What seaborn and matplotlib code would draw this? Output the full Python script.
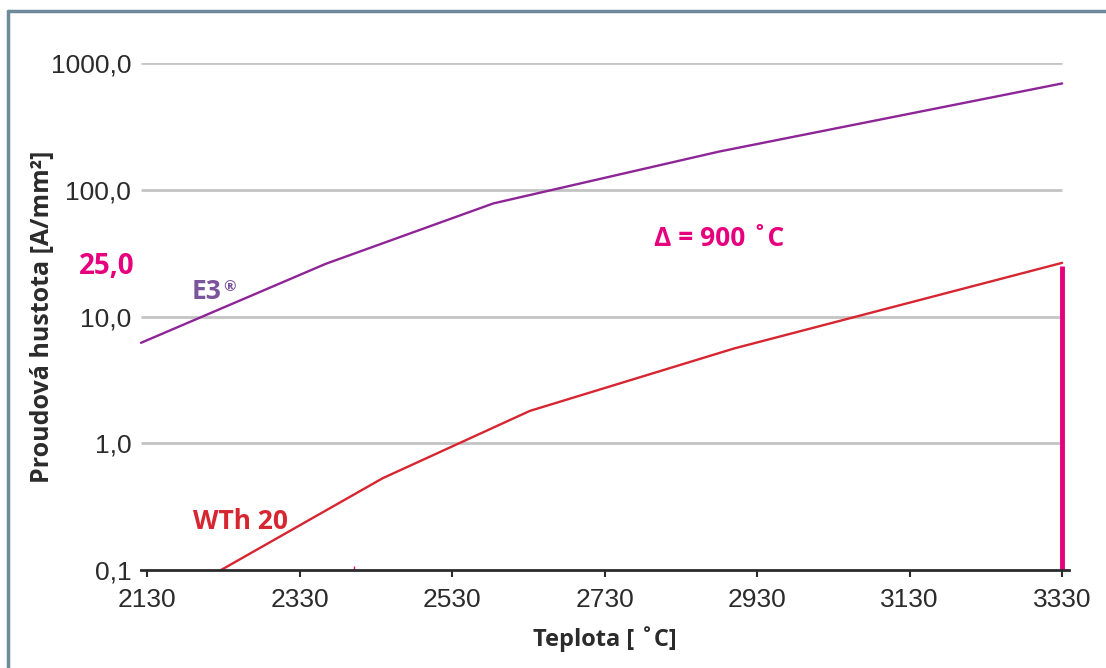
import numpy as np
import pandas as pd
import seaborn as sns
import matplotlib.pyplot as plt
from matplotlib.lines import Line2D
import matplotlib.transforms as mtransforms

# Data
e3_temp = [2122, 2364, 2584, 2880, 3330]
e3_current = [6.2, 26.0, 78.0, 200.0, 690.0]

wth_temp = [2227, 2439, 2632, 2900, 3330]
wth_current = [0.1, 0.53, 1.8, 5.6, 26.5]

x_ticks = [2130, 2330, 2530, 2730, 2930, 3130, 3330]
y_ticks = [0.1, 1, 10, 100, 1000]
y_tick_labels = ['0,1', '1,0', '10,0', '100,0', '1000,0']

marker_temp = 3330
marker_current = 25.0

purple = '#8E2596'
red = '#D62631'
magenta = '#E6007E'
label_purple = '#7B559C'
dark = '#2B2B2B'

df = pd.concat([
    pd.DataFrame({'Teplota': e3_temp, 'Proud': e3_current, 'serie': 'E3'}),
    pd.DataFrame({'Teplota': wth_temp, 'Proud': wth_current, 'serie': 'WTh 20'}),
])

sns.set_style('white')
plt.rcParams['font.family'] = ['Liberation Sans', 'DejaVu Sans']

fig = plt.figure(figsize=(11.06, 6.68), dpi=100)
ax = fig.add_axes([141 / 1106, 1 - 570 / 668, 928 / 1106, (570 - 63) / 668])

ax.set_yscale('log')
ax.set_xlim(2122, 3339)
ax.set_ylim(0.1, 1000)

# gridlines stop at the marker line
ax.hlines([1, 10, 100, 1000], 2122, marker_temp, colors='#C4C4C4', lw=2, zorder=1)

sns.lineplot(data=df, x='Teplota', y='Proud', hue='serie',
             palette={'E3': purple, 'WTh 20': red}, lw=1.7,
             legend=False, ax=ax, zorder=3)
for line in ax.lines:
    line.set_clip_on(False)

ax.vlines(marker_temp, 0.1, marker_current, colors=magenta, lw=3.5, zorder=4)
ax.vlines(2401, 0.093, 0.108, colors=magenta, lw=1, zorder=5)

for s in ['top', 'right', 'left']:
    ax.spines[s].set_visible(False)
ax.spines['bottom'].set_color(dark)
ax.spines['bottom'].set_linewidth(2)
ax.spines['bottom'].set_zorder(6)

ax.set_xticks(x_ticks)
ax.set_xticklabels([str(t) for t in x_ticks])
ax.set_yticks(y_ticks)
ax.set_yticklabels(y_tick_labels)
ax.yaxis.set_minor_locator(plt.NullLocator())
ax.tick_params(axis='x', direction='out', length=5, width=1.5, color=dark,
               labelsize=19, labelcolor=dark, pad=8, bottom=True)
ax.tick_params(axis='y', length=0, labelsize=19, labelcolor=dark, pad=7)

font_ann = ['Open Sans', 'DejaVu Sans']
ax.set_xlabel('Teplota [ ˚C]', fontsize=17, fontweight='bold', color=dark,
              family=font_ann, labelpad=10)
ax.set_ylabel('Proudová hustota [A/mm²]', fontsize=18, fontweight='bold', color=dark,
              family=font_ann)
ax.yaxis.set_label_coords(-0.093, 0.5)

ax.text(2189, 15.7, 'E3', color=label_purple, fontsize=19, fontweight='bold',
        family=font_ann, va='center', ha='left')
ax.annotate('®', xy=(2189, 15.7), xytext=(31, 5), textcoords='offset pixels',
            color=label_purple, fontsize=11, fontweight='bold', family=font_ann,
            va='center', ha='left')
ax.text(2190, 0.243, 'WTh 20', color=red, fontsize=19, fontweight='bold',
        family=font_ann, va='center', ha='left')
ax.text(2795, 41, 'Δ = 900 ˚C', color=magenta, fontsize=19, fontweight='bold',
        family=font_ann, va='center', ha='left')
trans = mtransforms.blended_transform_factory(ax.transAxes, ax.transData)
ax.text(-0.007, 25, '25,0', color=magenta, fontsize=20, fontweight='bold',
        family=font_ann, va='center', ha='right', transform=trans)

# blue-grey frame along top and left edge
frame_c = '#6E8B9C'
fig.add_artist(Line2D([8 / 1106, 1], [1 - 11 / 668, 1 - 11 / 668], color=frame_c, lw=2.5))
fig.add_artist(Line2D([8 / 1106, 8 / 1106], [0, 1 - 11 / 668], color=frame_c, lw=2.5))

fig.savefig('out.png', dpi=100)
